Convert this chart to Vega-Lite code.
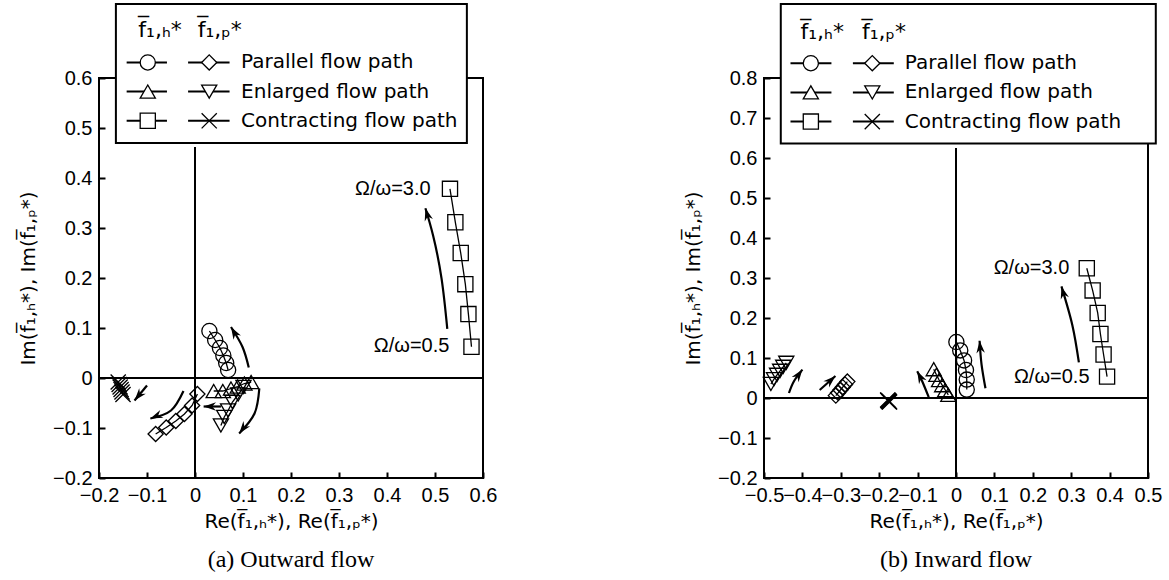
{
  "$schema": "https://vega.github.io/schema/vega-lite/v6.json",
  "background": "white",
  "padding": {"left": 18, "top": 2, "right": 5, "bottom": 5},
  "spacing": 186,
  "config": {
    "view": {"stroke": null},
    "axis": {
      "grid": false, "domain": false, "tickColor": "black", "tickSize": -6, "tickWidth": 2,
      "labelFont": "Liberation Sans", "labelFontSize": 20, "labelColor": "black", "labelPadding": 13,
      "labelOverlap": false, "labelFlush": false, "labelBound": false,
      "titleFont": "DejaVu Sans", "titleFontSize": 20, "titleFontWeight": "normal", "titleColor": "black"
    },
    "axisX": {"titlePadding": 6},
    "axisY": {"titlePadding": 14},
    "title": {"font": "Liberation Serif", "fontSize": 24, "fontWeight": "normal", "color": "black", "offset": 17}
  },
  "datasets": {
    "a_series": [
      {"s": "ph", "i": 1, "x": 0.069, "y": 0.016}, {"s": "ph", "i": 2, "x": 0.065, "y": 0.030}, {"s": "ph", "i": 3, "x": 0.059, "y": 0.045},
      {"s": "ph", "i": 4, "x": 0.052, "y": 0.060}, {"s": "ph", "i": 5, "x": 0.042, "y": 0.076}, {"s": "ph", "i": 6, "x": 0.030, "y": 0.094},
      {"s": "pp", "i": 1, "x": 0.005, "y": -0.032}, {"s": "pp", "i": 2, "x": -0.006, "y": -0.055}, {"s": "pp", "i": 3, "x": -0.022, "y": -0.072},
      {"s": "pp", "i": 4, "x": -0.040, "y": -0.086}, {"s": "pp", "i": 5, "x": -0.060, "y": -0.099}, {"s": "pp", "i": 6, "x": -0.082, "y": -0.112},
      {"s": "eh", "i": 1, "x": 0.117, "y": -0.008}, {"s": "eh", "i": 2, "x": 0.103, "y": -0.011}, {"s": "eh", "i": 3, "x": 0.089, "y": -0.017},
      {"s": "eh", "i": 4, "x": 0.075, "y": -0.021}, {"s": "eh", "i": 5, "x": 0.058, "y": -0.026}, {"s": "eh", "i": 6, "x": 0.039, "y": -0.026},
      {"s": "ep", "i": 1, "x": 0.101, "y": -0.018}, {"s": "ep", "i": 2, "x": 0.090, "y": -0.033}, {"s": "ep", "i": 3, "x": 0.078, "y": -0.048},
      {"s": "ep", "i": 4, "x": 0.069, "y": -0.065}, {"s": "ep", "i": 5, "x": 0.061, "y": -0.078}, {"s": "ep", "i": 6, "x": 0.054, "y": -0.095},
      {"s": "ch", "i": 1, "x": 0.576, "y": 0.0624}, {"s": "ch", "i": 2, "x": 0.5696, "y": 0.1278}, {"s": "ch", "i": 3, "x": 0.5632, "y": 0.1877},
      {"s": "ch", "i": 4, "x": 0.5536, "y": 0.2499}, {"s": "ch", "i": 5, "x": 0.5424, "y": 0.3114}, {"s": "ch", "i": 6, "x": 0.5312, "y": 0.3783},
      {"s": "cp", "i": 1, "x": -0.160, "y": -0.008}, {"s": "cp", "i": 2, "x": -0.158, "y": -0.013}, {"s": "cp", "i": 3, "x": -0.156, "y": -0.018},
      {"s": "cp", "i": 4, "x": -0.154, "y": -0.023}, {"s": "cp", "i": 5, "x": -0.152, "y": -0.028}, {"s": "cp", "i": 6, "x": -0.150, "y": -0.033}
    ],
    "b_series": [
      {"s": "ph", "i": 1, "x": 0.028, "y": 0.021}, {"s": "ph", "i": 2, "x": 0.028, "y": 0.046}, {"s": "ph", "i": 3, "x": 0.026, "y": 0.070},
      {"s": "ph", "i": 4, "x": 0.021, "y": 0.094}, {"s": "ph", "i": 5, "x": 0.011, "y": 0.119}, {"s": "ph", "i": 6, "x": 0.001, "y": 0.140},
      {"s": "pp", "i": 1, "x": -0.313, "y": 0.006}, {"s": "pp", "i": 2, "x": -0.307, "y": 0.013}, {"s": "pp", "i": 3, "x": -0.301, "y": 0.020},
      {"s": "pp", "i": 4, "x": -0.295, "y": 0.027}, {"s": "pp", "i": 5, "x": -0.289, "y": 0.034}, {"s": "pp", "i": 6, "x": -0.283, "y": 0.041},
      {"s": "eh", "i": 1, "x": -0.020, "y": 0.008}, {"s": "eh", "i": 2, "x": -0.028, "y": 0.020}, {"s": "eh", "i": 3, "x": -0.036, "y": 0.032},
      {"s": "eh", "i": 4, "x": -0.044, "y": 0.045}, {"s": "eh", "i": 5, "x": -0.051, "y": 0.058}, {"s": "eh", "i": 6, "x": -0.058, "y": 0.072},
      {"s": "ep", "i": 1, "x": -0.482, "y": 0.035}, {"s": "ep", "i": 2, "x": -0.474, "y": 0.047}, {"s": "ep", "i": 3, "x": -0.466, "y": 0.058},
      {"s": "ep", "i": 4, "x": -0.458, "y": 0.068}, {"s": "ep", "i": 5, "x": -0.450, "y": 0.078}, {"s": "ep", "i": 6, "x": -0.442, "y": 0.088},
      {"s": "ch", "i": 1, "x": 0.3934, "y": 0.0534}, {"s": "ch", "i": 2, "x": 0.3843, "y": 0.1087}, {"s": "ch", "i": 3, "x": 0.3761, "y": 0.160},
      {"s": "ch", "i": 4, "x": 0.369, "y": 0.2126}, {"s": "ch", "i": 5, "x": 0.3558, "y": 0.269}, {"s": "ch", "i": 6, "x": 0.3406, "y": 0.3243},
      {"s": "cp", "i": 1, "x": -0.178, "y": -0.005}, {"s": "cp", "i": 2, "x": -0.177, "y": -0.006}, {"s": "cp", "i": 3, "x": -0.176, "y": -0.007},
      {"s": "cp", "i": 4, "x": -0.175, "y": -0.008}, {"s": "cp", "i": 5, "x": -0.174, "y": -0.009}, {"s": "cp", "i": 6, "x": -0.173, "y": -0.010}
    ],
    "a_arrows": [
      {"a": "A1", "k": 1, "x": 0.112, "y": 0.021}, {"a": "A1", "k": 2, "x": 0.099, "y": 0.062}, {"a": "A1", "k": 3, "x": 0.075, "y": 0.102},
      {"a": "A2", "k": 1, "x": 0.134, "y": -0.021}, {"a": "A2", "k": 2, "x": 0.124, "y": -0.071}, {"a": "A2", "k": 3, "x": 0.092, "y": -0.111},
      {"a": "A3", "k": 1, "x": 0.054, "y": -0.057}, {"a": "A3", "k": 2, "x": 0.018, "y": -0.057},
      {"a": "A4", "k": 1, "x": -0.024, "y": -0.026}, {"a": "A4", "k": 2, "x": -0.050, "y": -0.065}, {"a": "A4", "k": 3, "x": -0.093, "y": -0.081},
      {"a": "A5", "k": 1, "x": -0.100, "y": -0.015}, {"a": "A5", "k": 2, "x": -0.126, "y": -0.045},
      {"a": "A6", "k": 1, "x": 0.5256, "y": 0.0982}, {"a": "A6", "k": 2, "x": 0.5136, "y": 0.1993}, {"a": "A6", "k": 3, "x": 0.496, "y": 0.2849}, {"a": "A6", "k": 4, "x": 0.48, "y": 0.3394}
    ],
    "a_heads": [
      {"a": "A1", "x": 0.075, "y": 0.102, "h": 330}, {"a": "A2", "x": 0.092, "y": -0.111, "h": 218},
      {"a": "A3", "x": 0.018, "y": -0.057, "h": 270}, {"a": "A4", "x": -0.093, "y": -0.081, "h": 248},
      {"a": "A5", "x": -0.126, "y": -0.045, "h": 220}, {"a": "A6", "x": 0.48, "y": 0.3394, "h": 344}
    ],
    "b_arrows": [
      {"a": "B1", "k": 1, "x": -0.435, "y": 0.0125}, {"a": "B1", "k": 2, "x": -0.422, "y": 0.042}, {"a": "B1", "k": 3, "x": -0.400, "y": 0.071},
      {"a": "B2", "k": 1, "x": -0.355, "y": 0.020}, {"a": "B2", "k": 2, "x": -0.314, "y": 0.055},
      {"a": "B3", "k": 1, "x": -0.071, "y": 0.002}, {"a": "B3", "k": 2, "x": -0.088, "y": 0.042}, {"a": "B3", "k": 3, "x": -0.101, "y": 0.067},
      {"a": "B4", "k": 1, "x": 0.0767, "y": 0.0243}, {"a": "B4", "k": 2, "x": 0.0665, "y": 0.084}, {"a": "B4", "k": 3, "x": 0.0614, "y": 0.143},
      {"a": "B5", "k": 1, "x": 0.320, "y": 0.089}, {"a": "B5", "k": 2, "x": 0.303, "y": 0.182}, {"a": "B5", "k": 3, "x": 0.2746, "y": 0.279}
    ],
    "b_heads": [
      {"a": "B1", "x": -0.400, "y": 0.071, "h": 36}, {"a": "B2", "x": -0.314, "y": 0.055, "h": 48},
      {"a": "B3", "x": -0.101, "y": 0.067, "h": 333}, {"a": "B4", "x": 0.0614, "y": 0.143, "h": 355},
      {"a": "B5", "x": 0.2746, "y": 0.279, "h": 344}
    ]
  },
  "hconcat": [
    {
      "width": 384,
      "height": 400,
      "title": {"text": "(a) Outward flow", "orient": "bottom"},
      "encoding": {
        "x": {"field": "x", "type": "quantitative", "scale": {"domain": [-0.2, 0.6], "nice": false, "zero": false},
          "axis": {"values": [-0.2, -0.1, 0, 0.1, 0.2, 0.3, 0.4, 0.5, 0.6], "format": ".1f", "labelExpr": "datum.value == 0 ? '0' : datum.label", "title": "Re(f̅₁,ₕ*), Re(f̅₁,ₚ*)"}},
        "y": {"field": "y", "type": "quantitative", "scale": {"domain": [-0.2, 0.6], "nice": false, "zero": false},
          "axis": {"values": [-0.2, -0.1, 0, 0.1, 0.2, 0.3, 0.4, 0.5, 0.6], "format": ".1f", "labelExpr": "datum.value == 0 ? '0' : datum.label", "title": "Im(f̅₁,ₕ*), Im(f̅₁,ₚ*)"}}
      },
      "layer": [
        {"data": {"values": [{"x": -0.2, "x2": 0.6, "y": -0.2, "y2": 0.6}]}, "mark": {"type": "rect", "filled": false, "stroke": "black", "strokeWidth": 2}, "encoding": {"x2": {"field": "x2"}, "y2": {"field": "y2"}}},
        {"data": {"values": [{"x": 0, "y": -0.2, "y2": 0.462}]}, "mark": {"type": "rule", "color": "black", "strokeWidth": 2}, "encoding": {"y2": {"field": "y2"}}},
        {"data": {"values": [{"x": -0.2, "x2": 0.6, "y": 0}]}, "mark": {"type": "rule", "color": "black", "strokeWidth": 2}, "encoding": {"x2": {"field": "x2"}}},
        {"data": {"name": "a_series"}, "mark": {"type": "line", "color": "black", "strokeWidth": 1.3}, "encoding": {"detail": {"field": "s"}, "order": {"field": "i", "type": "quantitative"}}},
        {"data": {"name": "a_series"}, "mark": {"type": "point", "filled": false, "color": "black", "strokeWidth": 1.3, "size": 230, "opacity": 1},
          "encoding": {"shape": {"field": "s", "type": "nominal", "scale": {"domain": ["ph", "pp", "eh", "ep", "ch", "cp"], "range": ["circle", "diamond", "triangle-up", "triangle-down", "square", "M-1,-1L1,1M1,-1L-1,1"]}, "legend": null}}},
        {"data": {"name": "a_arrows"}, "mark": {"type": "line", "color": "black", "strokeWidth": 2.2, "interpolate": "natural"}, "encoding": {"detail": {"field": "a"}, "order": {"field": "k", "type": "quantitative"}}},
        {"data": {"name": "a_heads"}, "mark": {"type": "point", "filled": true, "color": "black", "opacity": 1, "size": 240, "shape": "M0,0L0.55,1.6L0,1.1L-0.55,1.6Z"},
          "encoding": {"angle": {"field": "h", "type": "quantitative", "scale": {"domain": [0, 360], "range": [0, 360]}}}},
        {"data": {"values": [{"t": "Ω/ω=3.0", "x": 0.491, "y": 0.378}, {"t": "Ω/ω=0.5", "x": 0.530, "y": 0.065}]},
          "mark": {"type": "text", "align": "right", "baseline": "middle", "font": "Liberation Sans", "fontSize": 20, "color": "black"}, "encoding": {"text": {"field": "t"}}},
        {"data": {"values": [{"x": -0.1648, "x2": 0.5664, "y": 0.47, "y2": 0.748}]}, "mark": {"type": "rect", "fill": "white", "stroke": "black", "strokeWidth": 2}, "encoding": {"x2": {"field": "x2"}, "y2": {"field": "y2"}}},
        {"data": {"values": [
            {"x": -0.1424, "x2": -0.0584, "y": 0.6311}, {"x": -0.0144, "x2": 0.072, "y": 0.6311},
            {"x": -0.1424, "x2": -0.0584, "y": 0.5728}, {"x": -0.0144, "x2": 0.072, "y": 0.5728},
            {"x": -0.1424, "x2": -0.0584, "y": 0.5144}, {"x": -0.0144, "x2": 0.072, "y": 0.5144}]},
          "mark": {"type": "rule", "color": "black", "strokeWidth": 2}, "encoding": {"x2": {"field": "x2"}}},
        {"data": {"values": [
            {"s": "ph", "x": -0.0984, "y": 0.6311}, {"s": "pp", "x": 0.0296, "y": 0.6311},
            {"s": "eh", "x": -0.0984, "y": 0.5728}, {"s": "ep", "x": 0.0296, "y": 0.5728},
            {"s": "ch", "x": -0.0984, "y": 0.5144}, {"s": "cp", "x": 0.0296, "y": 0.5144}]},
          "mark": {"type": "point", "filled": true, "fill": "white", "stroke": "black", "strokeWidth": 1.3, "size": 230, "opacity": 1},
          "encoding": {"shape": {"field": "s", "type": "nominal", "legend": null}}},
        {"data": {"values": [
            {"t": "Parallel flow path", "x": 0.096, "y": 0.6311}, {"t": "Enlarged flow path", "x": 0.096, "y": 0.5728}, {"t": "Contracting flow path", "x": 0.096, "y": 0.5144}]},
          "mark": {"type": "text", "align": "left", "baseline": "middle", "font": "DejaVu Sans", "fontSize": 20, "color": "black"}, "encoding": {"text": {"field": "t"}}},
        {"data": {"values": [{"t": "f̅₁,ₕ*", "x": -0.118, "y": 0.697}, {"t": "f̅₁,ₚ*", "x": 0.0056, "y": 0.697}]},
          "mark": {"type": "text", "align": "left", "baseline": "middle", "font": "DejaVu Sans", "fontSize": 22, "color": "black"}, "encoding": {"text": {"field": "t"}}}
      ]
    },
    {
      "width": 384,
      "height": 400,
      "title": {"text": "(b) Inward flow", "orient": "bottom"},
      "encoding": {
        "x": {"field": "x", "type": "quantitative", "scale": {"domain": [-0.5, 0.5], "nice": false, "zero": false},
          "axis": {"values": [-0.5, -0.4, -0.3, -0.2, -0.1, 0, 0.1, 0.2, 0.3, 0.4, 0.5], "format": ".1f", "labelExpr": "datum.value == 0 ? '0' : datum.label", "title": "Re(f̅₁,ₕ*), Re(f̅₁,ₚ*)"}},
        "y": {"field": "y", "type": "quantitative", "scale": {"domain": [-0.2, 0.8], "nice": false, "zero": false},
          "axis": {"values": [-0.2, -0.1, 0, 0.1, 0.2, 0.3, 0.4, 0.5, 0.6, 0.7, 0.8], "format": ".1f", "labelExpr": "datum.value == 0 ? '0' : datum.label", "title": "Im(f̅₁,ₕ*), Im(f̅₁,ₚ*)"}}
      },
      "layer": [
        {"data": {"values": [{"x": -0.5, "x2": 0.5, "y": -0.2, "y2": 0.8}]}, "mark": {"type": "rect", "filled": false, "stroke": "black", "strokeWidth": 2}, "encoding": {"x2": {"field": "x2"}, "y2": {"field": "y2"}}},
        {"data": {"values": [{"x": 0, "y": -0.2, "y2": 0.625}]}, "mark": {"type": "rule", "color": "black", "strokeWidth": 2}, "encoding": {"y2": {"field": "y2"}}},
        {"data": {"values": [{"x": -0.5, "x2": 0.5, "y": 0}]}, "mark": {"type": "rule", "color": "black", "strokeWidth": 2}, "encoding": {"x2": {"field": "x2"}}},
        {"data": {"name": "b_series"}, "mark": {"type": "line", "color": "black", "strokeWidth": 1.3}, "encoding": {"detail": {"field": "s"}, "order": {"field": "i", "type": "quantitative"}}},
        {"data": {"name": "b_series"}, "mark": {"type": "point", "filled": false, "color": "black", "strokeWidth": 1.3, "size": 230, "opacity": 1},
          "encoding": {"shape": {"field": "s", "type": "nominal", "scale": {"domain": ["ph", "pp", "eh", "ep", "ch", "cp"], "range": ["circle", "diamond", "triangle-up", "triangle-down", "square", "M-1,-1L1,1M1,-1L-1,1"]}, "legend": null}}},
        {"data": {"name": "b_arrows"}, "mark": {"type": "line", "color": "black", "strokeWidth": 2.2, "interpolate": "natural"}, "encoding": {"detail": {"field": "a"}, "order": {"field": "k", "type": "quantitative"}}},
        {"data": {"name": "b_heads"}, "mark": {"type": "point", "filled": true, "color": "black", "opacity": 1, "size": 240, "shape": "M0,0L0.55,1.6L0,1.1L-0.55,1.6Z"},
          "encoding": {"angle": {"field": "h", "type": "quantitative", "scale": {"domain": [0, 360], "range": [0, 360]}}}},
        {"data": {"values": [{"t": "Ω/ω=3.0", "x": 0.295, "y": 0.324}, {"t": "Ω/ω=0.5", "x": 0.3477, "y": 0.053}]},
          "mark": {"type": "text", "align": "right", "baseline": "middle", "font": "Liberation Sans", "fontSize": 20, "color": "black"}, "encoding": {"text": {"field": "t"}}},
        {"data": {"values": [{"x": -0.4563, "x2": 0.5203, "y": 0.636, "y2": 0.985}]}, "mark": {"type": "rect", "fill": "white", "stroke": "black", "strokeWidth": 2}, "encoding": {"x2": {"field": "x2"}, "y2": {"field": "y2"}}},
        {"data": {"values": [
            {"x": -0.431, "x2": -0.3244, "y": 0.837}, {"x": -0.2685, "x2": -0.162, "y": 0.837},
            {"x": -0.431, "x2": -0.3244, "y": 0.764}, {"x": -0.2685, "x2": -0.162, "y": 0.764},
            {"x": -0.431, "x2": -0.3244, "y": 0.691}, {"x": -0.2685, "x2": -0.162, "y": 0.691}]},
          "mark": {"type": "rule", "color": "black", "strokeWidth": 2}, "encoding": {"x2": {"field": "x2"}}},
        {"data": {"values": [
            {"s": "ph", "x": -0.378, "y": 0.837}, {"s": "pp", "x": -0.218, "y": 0.837},
            {"s": "eh", "x": -0.378, "y": 0.764}, {"s": "ep", "x": -0.218, "y": 0.764},
            {"s": "ch", "x": -0.378, "y": 0.691}, {"s": "cp", "x": -0.218, "y": 0.691}]},
          "mark": {"type": "point", "filled": true, "fill": "white", "stroke": "black", "strokeWidth": 1.3, "size": 230, "opacity": 1},
          "encoding": {"shape": {"field": "s", "type": "nominal", "legend": null}}},
        {"data": {"values": [
            {"t": "Parallel flow path", "x": -0.1335, "y": 0.837}, {"t": "Enlarged flow path", "x": -0.1335, "y": 0.764}, {"t": "Contracting flow path", "x": -0.1335, "y": 0.691}]},
          "mark": {"type": "text", "align": "left", "baseline": "middle", "font": "DejaVu Sans", "fontSize": 20, "color": "black"}, "encoding": {"text": {"field": "t"}}},
        {"data": {"values": [{"t": "f̅₁,ₕ*", "x": -0.405, "y": 0.915}, {"t": "f̅₁,ₚ*", "x": -0.245, "y": 0.915}]},
          "mark": {"type": "text", "align": "left", "baseline": "middle", "font": "DejaVu Sans", "fontSize": 22, "color": "black"}, "encoding": {"text": {"field": "t"}}}
      ]
    }
  ]
}
